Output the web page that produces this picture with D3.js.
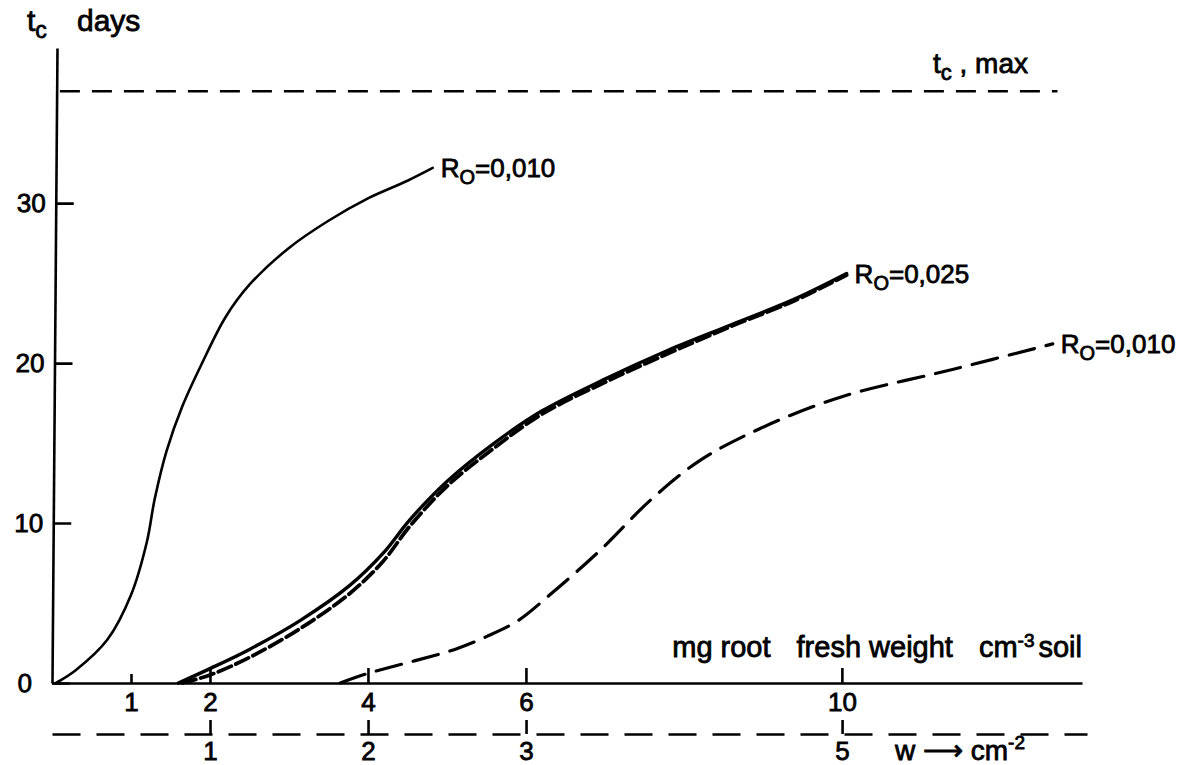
<!DOCTYPE html>
<html>
<head>
<meta charset="utf-8">
<script src="https://cdn.jsdelivr.net/npm/d3@7"></script>
<style>
    body { margin: 0; background: #fff; }
    svg { display: block; font-family: "Liberation Sans", Arial, sans-serif; }
</style>
</head>
<body>
<div id="chart"></div>
<script>
// tick values
let weightTicks = [1, 2, 4, 6, 10];   // mg root fresh weight cm-3 soil
let wTicks = [1, 2, 3, 5];            // w cm-2
let tcTicks = [0, 10, 20, 30];        // days
let tcMax = 37;

// R0 = 0,010 (thin solid)
let weightA = [0.05, 0.3, 0.7, 1.0, 1.2, 1.3, 1.45, 1.65, 1.9, 2.2, 2.5, 3.0, 3.5, 4.0, 4.5, 4.82];
let tcA     = [0, 0.8, 2.7, 5.5, 8.8, 11.5, 14.5, 17.3, 20, 22.9, 24.9, 27.2, 28.9, 30.3, 31.4, 32.2];

// R0 = 0,025 (thick solid)
let weightB = [1.6, 2.0, 2.5, 3.14, 3.77, 4.19, 4.53, 5.0, 5.6, 6.2, 7.0, 7.8, 8.6, 9.4, 10.06];
let tcB     = [0, 0.9, 2.1, 3.9, 6.1, 8.1, 10.2, 12.6, 15, 17, 19, 20.8, 22.4, 24, 25.6];

// R0 = 0,025 (thick dashed, almost on top of the solid one)
let weightC = [1.65, 2.0, 2.5, 3.14, 3.77, 4.19, 4.53, 5.0, 5.6, 6.2, 7.0, 7.8, 8.6, 9.4, 10.06];
let tcC     = [0, 0.5, 1.6, 3.4, 5.6, 7.6, 9.8, 12.3, 14.7, 16.8, 18.8, 20.6, 22.3, 23.9, 25.5];

// R0 = 0,010 (dashed, w scale)
let weightD = [3.65, 4.0, 4.6, 5.1, 5.5, 5.9, 6.3, 6.94, 7.57, 8.2, 8.96, 10.0, 11.4, 12.67];
let tcD     = [0, 0.6, 1.4, 2.1, 2.9, 3.9, 5.5, 8.3, 11.4, 13.9, 15.9, 17.9, 19.6, 21.2];

let curveLabels = ['0,010', '0,025', '0,010'];

(function () {
    let width = 1182, height = 765;

    let svg = d3.select('#chart')
        .append('svg')
        .attr('width', width)
        .attr('height', height);

    svg.append('rect')
        .attr('width', width)
        .attr('height', height)
        .attr('fill', '#fff');

    //比例尺
    let x = d3.scaleLinear().domain([0, 13.04]).range([52, 1082]);
    let w = d3.scaleLinear().domain([0, 6.55]).range([52, 1087]);
    let y = d3.scaleLinear().domain([0, 39.7]).range([683, 48]);

    let fontSize = 26;

    // y axis, the scan leans a little to the right at the top
    let k = 5 / 635;
    let yAxis = d3.axisLeft(y)
        .tickValues(tcTicks)
        .tickSize(-18)
        .tickSizeOuter(0)
        .tickPadding(10);

    let gy = svg.append('g')
        .attr('transform', 'translate(' + (52 + 683 * k) + ',0) skewX(' + (-Math.atan(k) * 180 / Math.PI) + ')')
        .call(yAxis);

    gy.selectAll('text')
        .attr('dx', function (d) { return d === 0 ? -10 : 0; });

    // x axis (mg root fresh weight)
    let xAxis = d3.axisBottom(x)
        .tickValues(weightTicks)
        .tickSize(-15)
        .tickSizeOuter(0)
        .tickPadding(10);

    let gx = svg.append('g')
        .attr('transform', 'translate(0,' + y(0) + ')')
        .call(xAxis);

    gx.selectAll('.tick line')
        .attr('y2', function (d) { return d === 1 ? -9 : -15; });

    // second scale, w cm-2, on a dashed line
    let wAxis = d3.axisBottom(w)
        .tickValues(wTicks)
        .tickFormat(d3.format('d'))
        .tickSize(-14)
        .tickSizeOuter(0)
        .tickPadding(8);

    let gw = svg.append('g')
        .attr('transform', 'translate(0,734)')
        .call(wAxis);

    gw.select('.domain').attr('stroke-dasharray', '28,16');

    svg.selectAll('.domain, .tick line')
        .attr('stroke', '#000')
        .attr('stroke-width', 2.6);

    svg.selectAll('.tick text')
        .attr('fill', '#000')
        .attr('stroke', '#000')
        .attr('stroke-width', 0.8)
        .attr('font-size', fontSize)
        .attr('font-family', '"Liberation Sans", Arial, sans-serif');

    // t_c, max
    let line = d3.line()
        .x(function (d) { return x(d[0]); })
        .y(function (d) { return y(d[1]); });

    svg.append('path')
        .attr('d', line([[0.1, tcMax], [12.73, tcMax]]))
        .attr('fill', 'none')
        .attr('stroke', '#000')
        .attr('stroke-width', 2.6)
        .attr('stroke-dasharray', '20,12');

    //曲线
    let curve = d3.line()
        .x(function (d) { return x(d[0]); })
        .y(function (d) { return y(d[1]); })
        .curve(d3.curveCatmullRom.alpha(0.5));

    let series = [
        { pts: d3.zip(weightA, tcA), width: 2.6, dash: null },
        { pts: d3.zip(weightB, tcB), width: 3.4, dash: null },
        { pts: d3.zip(weightC, tcC), width: 3.8, dash: '14,5' },
        { pts: d3.zip(weightD, tcD), width: 3.2, dash: '26,12' }
    ];

    svg.selectAll('path.curve')
        .data(series)
        .enter()
        .append('path')
        .attr('class', 'curve')
        .attr('d', function (d) { return curve(d.pts); })
        .attr('fill', 'none')
        .attr('stroke', '#000')
        .attr('stroke-width', function (d) { return d.width; })
        .attr('stroke-dasharray', function (d) { return d.dash; })
        .attr('stroke-linecap', 'round');

    // all free text a bit heavier, like the printed figure
    let g = svg.append('g')
        .attr('fill', '#000')
        .attr('stroke', '#000')
        .attr('stroke-width', 0.8)
        .attr('font-size', fontSize);

    // R0 labels at the end of each curve
    let ends = [series[0], series[1], series[3]];
    let labels = g.selectAll('text.rlabel')
        .data(ends)
        .enter()
        .append('text')
        .attr('class', 'rlabel')
        .attr('x', function (d) { return x(d.pts[d.pts.length - 1][0]) + 8; })
        .attr('y', function (d) { return y(d.pts[d.pts.length - 1][1]) + 9; });

    labels.append('tspan').text('R');
    labels.append('tspan').attr('dy', 7).attr('font-size', 20).text('O');
    labels.append('tspan').attr('dy', -7).text(function (d, i) { return '=' + curveLabels[i]; });

    // axis titles
    let t1 = g.append('text')
        .attr('x', 27)
        .attr('y', 31)
        .attr('font-size', 30);
    t1.append('tspan').text('t');
    t1.append('tspan').attr('dy', 7).attr('font-size', 23).text('c');
    t1.append('tspan').attr('x', 77).attr('dy', -7).text('days');

    let t2 = g.append('text')
        .attr('x', 933)
        .attr('y', 73)
        .attr('font-size', 28);
    t2.append('tspan').text('t');
    t2.append('tspan').attr('dy', 7).attr('font-size', 22).text('c');
    t2.append('tspan').attr('dy', -7).text(' , max');

    let t3 = g.append('text')
        .attr('x', 1082)
        .attr('y', 657)
        .attr('text-anchor', 'end')
        .attr('font-size', 29);
    t3.append('tspan').text('mg root');
    t3.append('tspan').attr('dx', 26).text('fresh weight');
    t3.append('tspan').attr('dx', 26).text('cm');
    t3.append('tspan').attr('dy', -10).attr('font-size', 19).text('-3');
    t3.append('tspan').attr('dy', 10).attr('dx', 4).text('soil');

    let t4 = g.append('text')
        .attr('x', 895)
        .attr('y', 760)
        .attr('font-size', 28);
    t4.append('tspan').text('w \u27F6 cm');
    t4.append('tspan').attr('dy', -11).attr('font-size', 19).text('-2');

})();
</script>
</body>
</html>
